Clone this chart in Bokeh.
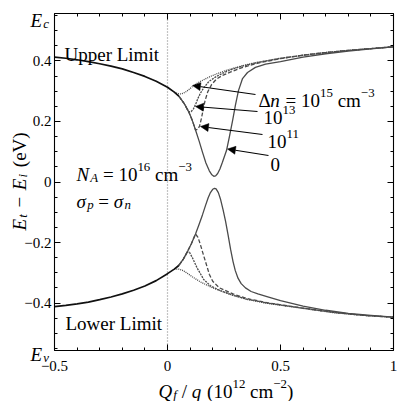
from math import pi

from bokeh.embed import file_html
from bokeh.models import (Arrow, CustomJSTickFormatter, FixedTicker, Label, LinearAxis,
                          NormalHead, Range1d)
from bokeh.plotting import figure
from bokeh.resources import INLINE

# ---------------------------------------------------------------- data
# Fixed-charge density Q_f/q (1e12 cm^-2) and trap-level limits E_t - E_i (eV)

# common left part of both limits
env_x = [-0.5, -0.45, -0.4, -0.35, -0.3, -0.25, -0.2, -0.15, -0.1, -0.05, 0.0, 0.03, 0.05]
env_upper = [0.413, 0.409, 0.404, 0.398, 0.391, 0.383, 0.374, 0.362, 0.349, 0.333, 0.313, 0.297, 0.284]
env_lower = [-0.412, -0.408, -0.403, -0.397, -0.389, -0.380, -0.370, -0.358, -0.344, -0.326, -0.303, -0.288, -0.276]

# delta n = 0
dn0_upper_x = [0.05, 0.075, 0.094, 0.11, 0.124, 0.14, 0.155, 0.17, 0.185, 0.195, 0.205, 0.213,
               0.222, 0.232, 0.243, 0.261, 0.274, 0.288, 0.301, 0.314, 0.332, 0.354, 0.389, 0.434,
               0.5, 0.6, 0.7, 0.8, 0.9, 1.0]
dn0_upper_y = [0.284, 0.258, 0.232, 0.203, 0.172, 0.135, 0.098, 0.063, 0.037, 0.025, 0.019, 0.02,
               0.028, 0.043, 0.065, 0.104, 0.15, 0.203, 0.256, 0.302, 0.342, 0.362, 0.379, 0.39,
               0.398, 0.413, 0.424, 0.433, 0.44, 0.447]
dn0_lower_x = [0.05, 0.07, 0.087, 0.105, 0.124, 0.14, 0.155, 0.168, 0.18, 0.19, 0.2, 0.208, 0.215,
               0.225, 0.235, 0.246, 0.257, 0.268, 0.279, 0.29, 0.3, 0.312, 0.326, 0.345, 0.37,
               0.4, 0.44, 0.5, 0.6, 0.7, 0.8, 0.9, 1.0]
dn0_lower_y = [-0.276, -0.255, -0.232, -0.205, -0.172, -0.14, -0.108, -0.078, -0.052, -0.035,
               -0.024, -0.021, -0.023, -0.035, -0.058, -0.092, -0.13, -0.175, -0.222, -0.263,
               -0.293, -0.318, -0.336, -0.35, -0.362, -0.37, -0.379, -0.392, -0.41, -0.424,
               -0.434, -0.441, -0.447]

# delta n = 1e11 cm^-3
dn11_upper_x = [0.05, 0.075, 0.094, 0.11, 0.124, 0.134, 0.142, 0.15, 0.158, 0.166, 0.178, 0.195,
                0.215, 0.24, 0.28, 0.33, 0.4, 0.5, 0.6, 0.7, 0.8, 0.9, 1.0]
dn11_upper_y = [0.284, 0.258, 0.232, 0.203, 0.172, 0.174, 0.185, 0.21, 0.24, 0.268, 0.298, 0.322,
                0.339, 0.351, 0.364, 0.378, 0.393, 0.408, 0.419, 0.428, 0.435, 0.441, 0.447]
dn11_lower_x = [0.05, 0.07, 0.087, 0.105, 0.124, 0.135, 0.146, 0.157, 0.168, 0.185, 0.2, 0.23,
                0.29, 0.35, 0.44, 0.59, 0.735, 0.87, 1.0]
dn11_lower_y = [-0.276, -0.255, -0.232, -0.205, -0.172, -0.183, -0.208, -0.236, -0.263, -0.305,
                -0.328, -0.35, -0.37, -0.385, -0.399, -0.416, -0.431, -0.441, -0.447]

# delta n = 1e13 cm^-3
dn13_upper_x = [0.05, 0.075, 0.094, 0.105, 0.115, 0.125, 0.135, 0.146, 0.16, 0.183, 0.21, 0.24,
                0.28, 0.33, 0.4, 0.5, 0.6, 0.7, 0.8, 0.9, 1.0]
dn13_upper_y = [0.284, 0.258, 0.232, 0.233, 0.242, 0.258, 0.277, 0.294, 0.311, 0.332, 0.346, 0.358,
                0.371, 0.383, 0.395, 0.409, 0.419, 0.428, 0.435, 0.441, 0.447]
dn13_lower_x = [0.05, 0.07, 0.087, 0.097, 0.11, 0.131, 0.16, 0.19, 0.23, 0.29, 0.35, 0.44, 0.59,
                0.735, 0.87, 1.0]
dn13_lower_y = [-0.276, -0.255, -0.232, -0.232, -0.25, -0.284, -0.322, -0.343, -0.358, -0.374,
                -0.387, -0.4, -0.416, -0.431, -0.441, -0.447]

# delta n = 1e15 cm^-3
dn15_upper_x = [0.03, 0.045, 0.058, 0.07, 0.085, 0.1, 0.116, 0.135, 0.16, 0.19, 0.22, 0.26, 0.3,
                0.35, 0.4, 0.5, 0.6, 0.7, 0.8, 0.9, 1.0]
dn15_upper_y = [0.297, 0.292, 0.291, 0.293, 0.3, 0.309, 0.319, 0.328, 0.338, 0.349, 0.358, 0.369,
                0.378, 0.388, 0.396, 0.409, 0.419, 0.428, 0.435, 0.441, 0.447]
dn15_lower_x = [0.03, 0.05, 0.07, 0.09, 0.115, 0.15, 0.2, 0.25, 0.29, 0.35, 0.44, 0.59, 0.735,
                0.87, 1.0]
dn15_lower_y = [-0.288, -0.288, -0.293, -0.303, -0.316, -0.332, -0.35, -0.364, -0.375, -0.388,
                -0.401, -0.417, -0.432, -0.441, -0.447]

x_ticks = [-0.5, 0.0, 0.5, 1.0]
x_tick_labels = ["\u22120.5", "0", "0.5", "1"]
y_ticks = [-0.4, -0.2, 0.0, 0.2, 0.4]
y_tick_labels = ["\u22120.4", "\u22120.2", "0", "0.2", "0.4"]

# ---------------------------------------------------------------- layout
# the axes box spans [X0, X1] x [Y0, Y1] (Y0/Y1 = valence / conduction band edges)
X0, X1 = -0.5, 1.0
Y0, Y1 = -0.557, 0.557
W, H = 399, 401
L, R, T, B = 54, 6, 13, 51           # room around the axes box, in pixels
PPX = (W - L - R) / (X1 - X0)       # pixels per x unit
PPY = (H - T - B) / (Y1 - Y0)       # pixels per y unit
XS, XE = X0 - L / PPX, X1 + R / PPX
YS, YE = Y0 - B / PPY, Y1 + T / PPY
FONT = "Liberation Serif"

p = figure(width=W, height=H, x_range=Range1d(XS, XE), y_range=Range1d(YS, YE),
           x_axis_type=None, y_axis_type=None,
           output_backend="svg", toolbar_location=None,
           min_border=0, min_border_left=0, min_border_right=0,
           min_border_top=0, min_border_bottom=0)
p.outline_line_color = None
p.background_fill_color = "white"
p.border_fill_color = "white"

x_ticker = FixedTicker(ticks=x_ticks, minor_ticks=[round(-0.5 + 0.1 * k, 2) for k in range(16)])
y_ticker = FixedTicker(ticks=y_ticks, minor_ticks=[round(-0.55 + 0.05 * k, 2) for k in range(23)])
JS = ("const i = tick_values.findIndex((t) => Math.abs(t - tick) < 1e-6); "
      "return i < 0 ? '' : tick_texts[i];")
x_fmt = CustomJSTickFormatter(args=dict(tick_values=x_ticks, tick_texts=x_tick_labels), code=JS)
y_fmt = CustomJSTickFormatter(args=dict(tick_values=y_ticks, tick_texts=y_tick_labels), code=JS)

bottom_axis = LinearAxis(ticker=x_ticker, formatter=x_fmt, fixed_location=Y0, bounds=(X0, X1))
left_axis = LinearAxis(ticker=y_ticker, formatter=y_fmt, fixed_location=X0, bounds=(Y0, Y1))
top_axis = LinearAxis(ticker=x_ticker, fixed_location=Y1, bounds=(X0, X1))
right_axis = LinearAxis(ticker=y_ticker, fixed_location=X1, bounds=(Y0, Y1))

for ax in (bottom_axis, left_axis, top_axis, right_axis):
    ax.major_tick_in = 6
    ax.major_tick_out = 0
    ax.minor_tick_in = 3
    ax.minor_tick_out = 0
    ax.axis_line_color = "black"
    ax.axis_line_width = 1.1
    ax.major_tick_line_color = "black"
    ax.minor_tick_line_color = "black"
    ax.major_label_text_font = FONT
    ax.major_label_text_font_size = "15px"
    ax.major_label_text_color = "black"
for ax in (top_axis, right_axis):
    ax.major_label_text_font_size = "0px"
    ax.major_label_text_color = None
    ax.major_label_standoff = 0
bottom_axis.major_label_standoff = 10
left_axis.major_label_standoff = 3

p.add_layout(bottom_axis, "below")
p.add_layout(left_axis, "left")
p.add_layout(top_axis, "above")
p.add_layout(right_axis, "right")


def dx(px):
    return XS + px / PPX


def dy(py):
    return YE - py / PPY


# ---------------------------------------------------------------- curves
# Q_f = 0 reference line through the box
p.segment(x0=[0.0], y0=[Y0], x1=[0.0], y1=[Y1], line_color="#888888",
          line_dash="1 2", line_width=1.2)

GREY = "#4a4a4a"
styles = [
    (dn15_upper_x, dn15_upper_y, dn15_lower_x, dn15_lower_y, "1 1"),
    (dn13_upper_x, dn13_upper_y, dn13_lower_x, dn13_lower_y, "2 1"),
    (dn11_upper_x, dn11_upper_y, dn11_lower_x, dn11_lower_y, "4 2"),
    (dn0_upper_x, dn0_upper_y, dn0_lower_x, dn0_lower_y, "solid"),
]
for ux, uy, lx, ly, dash in styles:
    p.line(ux, uy, line_color=GREY, line_width=1.3, line_dash=dash, line_join="round")
    p.line(lx, ly, line_color=GREY, line_width=1.3, line_dash=dash, line_join="round")

p.line(env_x, env_upper, line_color="#111111", line_width=1.7, line_join="round")
p.line(env_x, env_lower, line_color="#111111", line_width=1.7, line_join="round")

# ---------------------------------------------------------------- text
W_REG = {" ": .25, "(": .333, ")": .333, "e": .444, "V": .722, "c": .444, "m": .778,
         "=": .564, "\u2212": .564, "/": .278, "\u0394": .612, "U": .722, "p": .5}
W_IT = {"E": .611, "t": .278, "i": .278, "N": .667, "A": .611, "Q": .722, "f": .278,
        "q": .5, "n": .5, "p": .5, "c": .444, "v": .444, "\u03c3": .5}


def width(txt, italic, size):
    table = W_IT if italic else W_REG
    return sum(table.get(ch, .5) for ch in txt) * size


def compose(parts, px, py, size, rotated=False):
    """parts: (text, italic, shift) with shift in {'', 'sub', 'sup'}; None text = gap in em."""
    adv = 0.0
    for txt, italic, shift in parts:
        if txt is None:
            adv += italic * size
            continue
        s = size * 0.68 if shift else size
        off = 0.2 * size if shift == "sub" else (-0.4 * size if shift == "sup" else 0.0)
        if rotated:
            lx, ly = px + off, py - adv
        else:
            lx, ly = px + adv, py + off
        p.add_layout(Label(x=dx(lx), y=dy(ly), text=txt, text_font=FONT,
                           text_font_style="italic" if italic else "normal",
                           text_font_size=f"{s:.1f}px", text_color="black",
                           text_align="left", text_baseline="alphabetic",
                           angle=pi / 2 if rotated else 0))
        adv += width(txt, italic, s) + (0.06 * size if italic and not shift else 0)


GAP = (None, 0.25, "")
WGAP = (None, 0.35, "")

compose([("Upper Limit", False, "")], 64, 54, 19)
compose([("Lower Limit", False, "")], 65, 323, 19)
compose([("E", True, ""), ("c", True, "sub")], 30, 19.5, 19)
compose([("E", True, ""), ("v", True, "sub")], 30, 354, 19)

compose([("N", True, ""), ("A", True, "sub"), GAP, ("=", False, ""), GAP, ("10", False, ""),
         ("16", False, "sup"), GAP, ("cm", False, ""), ("\u22123", False, "sup")], 76, 174, 19)
compose([("\u03c3", True, ""), ("p", True, "sub"), GAP, ("=", False, ""), GAP,
         ("\u03c3", True, ""), ("n", True, "sub")], 76, 201, 19)

compose([("\u0394", False, ""), ("n", True, ""), GAP, ("=", False, ""), GAP, ("10", False, ""),
         ("15", False, "sup"), GAP, ("cm", False, ""), ("\u22123", False, "sup")], 258, 100, 19)
compose([("10", False, ""), ("13", False, "sup")], 263, 117, 19)
compose([("10", False, ""), ("11", False, "sup")], 267, 141, 19)
compose([("0", False, "")], 270, 164, 19)

compose([("Q", True, ""), ("f", True, "sub"), GAP, ("/", False, ""), GAP, ("q", True, ""), GAP,
         ("(10", False, ""), ("12", False, "sup"), GAP, ("cm", False, ""),
         ("\u22122", False, "sup"), (")", False, "")], 158, 391, 19)
compose([("E", True, ""), ("t", True, "sub"), WGAP, ("\u2212", False, ""), WGAP, ("E", True, ""),
         ("i", True, "sub"), WGAP, ("(eV)", False, "")], 19, 230, 19, rotated=True)

# arrows from the labels to their curves
for (x_s, y_s, x_e, y_e) in [(255, 94, 192, 85), (257, 111, 195, 106),
                             (262, 134, 200, 126), (268, 155, 227, 148.5)]:
    p.add_layout(Arrow(x_start=dx(x_s), y_start=dy(y_s), x_end=dx(x_e), y_end=dy(y_e),
                       line_color="black", line_width=1.1,
                       end=NormalHead(size=8, fill_color="black", line_color="black",
                                      line_width=0.5)))

open("out.html", "w").write(file_html(p, INLINE))
